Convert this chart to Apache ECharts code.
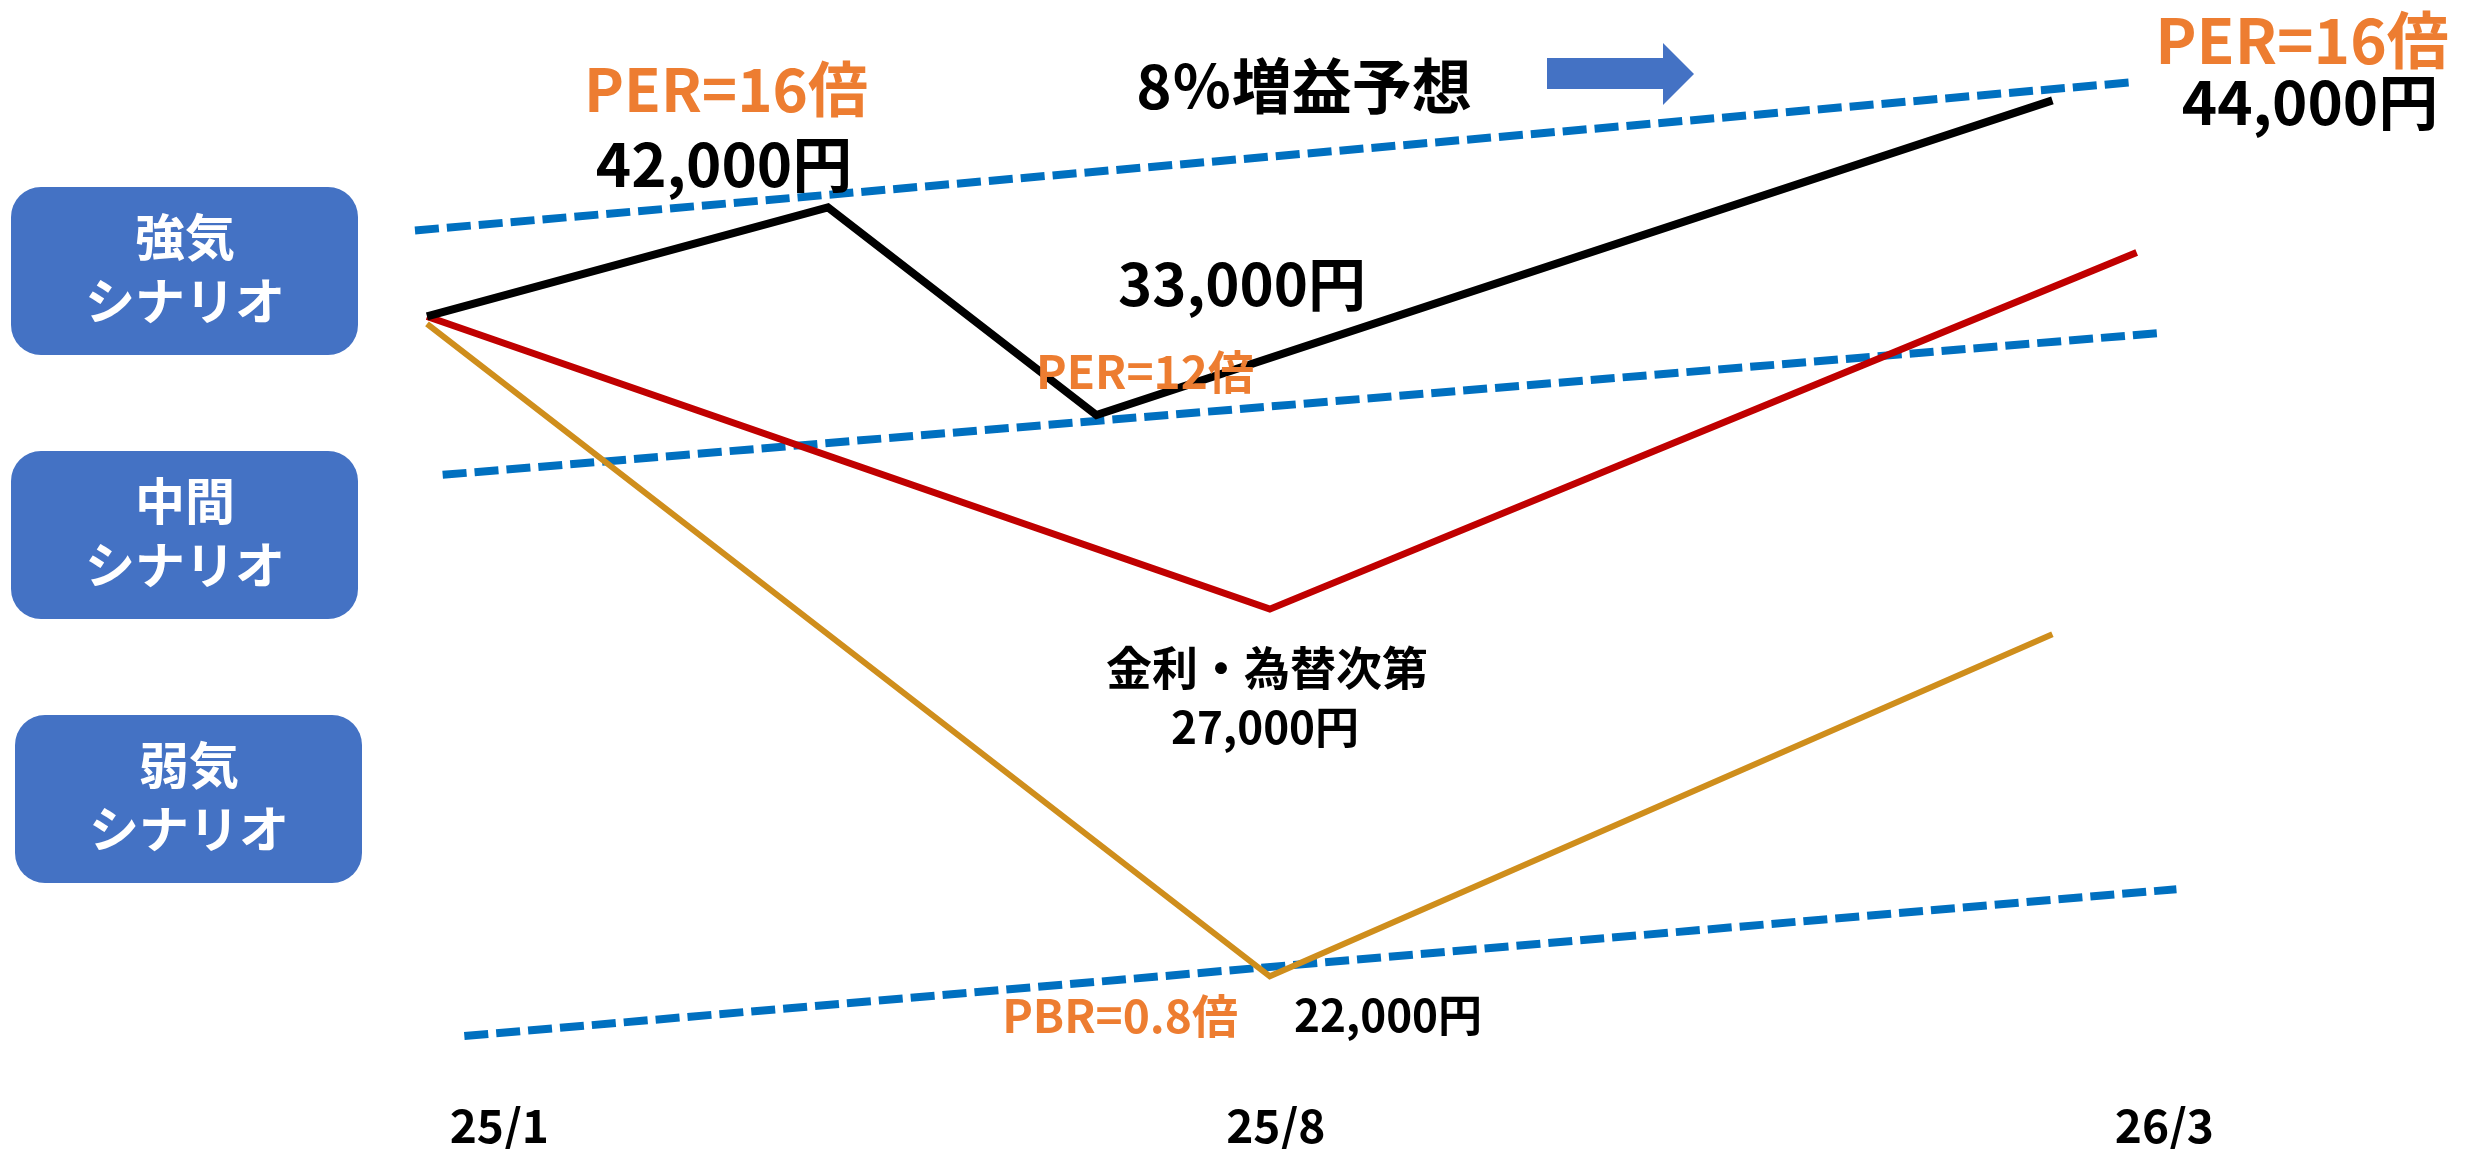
<!DOCTYPE html>
<html>
<head>
<meta charset="utf-8">
<script src="https://cdn.jsdelivr.net/npm/echarts@6/dist/echarts.min.js"></script>
<style>
  html, body { margin: 0; padding: 0; background: #fff; }
  #main { width: 2483px; height: 1149px; }
</style>
</head>
<body>
<div id="main"></div>
<script>
// x: months from 2025/1, y: schematic price level (0-100)
var tickPos = [0.6, 7.05, 14.43];
var tickLabels = ['25/1', '25/8', '26/3'];

var bullX = [0, 3.33, 5.56, 13.5];
var bullY = [74.6, 85.0, 65.2, 95.2];
var midX = [0, 7, 14.2];
var midY = [74.6, 46.7, 80.7];
var bearX = [0, 7, 13.5];
var bearY = [73.9, 11.7, 44.3];

// valuation bands (dashed)
var per16X = [-0.1, 14.14];
var per16Y = [82.8, 96.9];
var per12X = [0.13, 14.37];
var per12Y = [59.5, 73.0];
var pbrX = [0.31, 14.53];
var pbrY = [6.0, 20.0];

var FONT = '"Noto Sans CJK JP", "Noto Sans", sans-serif';
var ORANGE = '#ED7D31';
var BLUE = '#4472C4';

function pairs(xs, ys) {
  var out = [];
  for (var i = 0; i < xs.length; i++) out.push([xs[i], ys[i]]);
  return out;
}
function solid(data, color, width) {
  return {
    type: 'line', data: data, showSymbol: false, silent: true,
    lineStyle: { color: color, width: width, join: 'miter' }, z: 3
  };
}
function dashed(data) {
  return {
    type: 'line', data: data, showSymbol: false, silent: true,
    lineStyle: { color: '#0070C0', width: 8, type: [24, 8], cap: 'butt' }, z: 2
  };
}
function label(txt, x, y, size, color, weight) {
  return {
    type: 'text', x: x, y: y, silent: true, z: 10,
    style: {
      text: txt, fill: color, textAlign: 'center', textVerticalAlign: 'middle',
      font: (weight || 'bold') + ' ' + size + 'px ' + FONT
    }
  };
}
function box(x, y, t1) {
  return [{
    type: 'rect', silent: true, z: 5,
    shape: { x: x, y: y, width: 347, height: 168, r: 30 },
    style: { fill: BLUE }
  }, {
    type: 'text', x: x + 174, y: y + 82, silent: true, z: 6,
    style: {
      text: t1 + '\nシナリオ', fill: '#fff', textAlign: 'center',
      textVerticalAlign: 'middle', lineHeight: 64, font: 'bold 50px ' + FONT
    }
  }];
}

var chart = echarts.init(document.getElementById('main'));
chart.setOption({
  animation: false,
  backgroundColor: '#fff',
  grid: { left: 306.6, right: 250, top: 50, bottom: 49 },
  xAxis: {
    type: 'value', min: -1, max: 15,
    axisLine: { show: false }, axisTick: { show: false }, splitLine: { show: false },
    axisLabel: {
      customValues: tickPos, margin: 4,
      formatter: function (v) {
        var i = tickPos.indexOf(v);
        return i >= 0 ? tickLabels[i] : '';
      },
      color: '#000', fontSize: 46, fontWeight: 'bold', fontFamily: FONT
    }
  },
  yAxis: {
    type: 'value', min: 0, max: 100, show: false
  },
  series: [
    dashed(pairs(per16X, per16Y)),
    dashed(pairs(per12X, per12Y)),
    dashed(pairs(pbrX, pbrY)),
    solid(pairs(bearX, bearY), '#CF8E1C', 6),
    solid(pairs(midX, midY), '#C00000', 7),
    solid(pairs(bullX, bullY), '#000000', 8)
  ],
  graphic: [].concat(
    box(11, 187, '強気'),
    box(11, 451, '中間'),
    box(15, 715, '弱気'),
    [
      {
        type: 'polygon', silent: true,
        shape: { points: [[1547, 58], [1663, 58], [1663, 43], [1694, 74], [1663, 105], [1663, 89], [1547, 89]] },
        style: { fill: BLUE }
      },
      label('PER=16倍', 726, 89, 60, ORANGE),
      label('42,000円', 724, 164, 60, '#000'),
      label('8％増益予想', 1304, 86, 60, '#000'),
      label('PER=16倍', 2302, 40, 62, ORANGE),
      label('44,000円', 2310, 102, 60, '#000'),
      label('33,000円', 1242, 284, 58, '#000'),
      label('PER=12倍', 1145, 372, 46, ORANGE),
      label('金利・為替次第', 1267, 668, 46, '#000'),
      label('27,000円', 1265, 727, 44, '#000'),
      label('PBR=0.8倍', 1120, 1016, 46, ORANGE),
      label('22,000円', 1388, 1015, 44, '#000')
    ]
  )
});
</script>
</body>
</html>
